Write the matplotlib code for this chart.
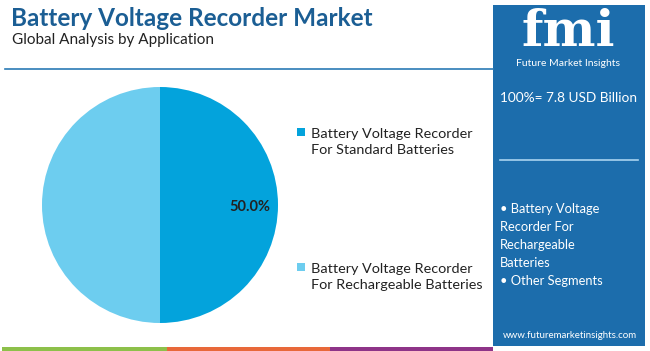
import matplotlib.pyplot as plt
from matplotlib.patches import Rectangle

# data
segments = ["Battery Voltage Recorder\nFor Standard Batteries",
            "Battery Voltage Recorder\nFor Rechargeable Batteries"]
shares = [50.0, 50.0]
colors = ["#03a3dc", "#6dcdef"]
total_label = "100%= 7.8 USD Billion"
other_items = ["\u2022 Battery Voltage\nRecorder For\nRechargeable\nBatteries\n\u2022 Other Segments"]

plt.rcParams["font.family"] = ["Lato", "DejaVu Sans"]

W, H = 650, 351
fig = plt.figure(figsize=(6.5, 3.51), dpi=100)
fig.patch.set_facecolor("white")


def px(x, y):
    return x / W, 1 - y / H


# header
fig.text(*px(11, 18), "Battery Voltage Recorder Market", fontsize=17.5, fontweight="bold",
         color="#1b5e94", va="center", ha="left")
fig.text(*px(12, 40), "Global Analysis by Application", fontsize=11, color="#222222",
         va="center", ha="left")
fig.add_artist(plt.Line2D([5 / W, 493 / W], [1 - 69 / H, 1 - 69 / H], color="#2a7ab5", lw=1.2))

# bottom stripe
for x0, x1, c in [(2, 167, "#8dc04a"), (167, 330, "#e8683a"), (330, 493, "#8e3488")]:
    fig.add_artist(Rectangle((x0 / W, 0), (x1 - x0) / W, 4 / H, color=c, lw=0))

# right panel
fig.add_artist(Rectangle((493 / W, 5 / H), 152 / W, 341 / H, color="#1c6dac", lw=0))
fig.text(*px(568, 32), "fmi", fontsize=36, fontweight="bold", family="DejaVu Serif",
         color="white", ha="center", va="center")
for yy in range(16, 54, 4):
    fig.add_artist(Rectangle((512 / W, 1 - yy / H), 116 / W, 1.2 / H, color="#1c6dac", lw=0))
fig.text(*px(568, 64), "Future Market Insights", fontsize=7.5, color="white", ha="center", va="center")
fig.text(*px(568, 98), total_label, fontsize=9.8, color="white", ha="center", va="center")
fig.add_artist(plt.Line2D([500 / W, 638 / W], [1 - 160 / H, 1 - 160 / H], color="#a9d4f0", lw=1.2))
fig.text(*px(500, 245), other_items[0], fontsize=9.3, color="white", ha="left", va="center",
         linespacing=1.62)
fig.text(*px(570, 335), "www.futuremarketinsights.com", fontsize=7, color="white",
         ha="center", va="center")

# pie
ax = fig.add_axes([(160 - 118) / W, 1 - (205 + 118) / H, 236 / W, 236 / H])
wedges, texts, autotexts = ax.pie(shares, colors=colors, startangle=90, counterclock=False,
                                  autopct="%1.1f%%", pctdistance=0.76,
                                  textprops=dict(fontsize=10.5, fontweight="bold", color="#222222"))
autotexts[1].set_visible(False)
x, y = autotexts[0].get_position()
autotexts[0].set_position((x, y - 0.02))
ax.set_xlim(-1, 1)
ax.set_ylim(-1, 1)
ax.set_aspect("equal")

# legend
legend_y = [142, 277]
for lab, c, ly in zip(segments, colors, legend_y):
    fig.add_artist(Rectangle((297 / W, 1 - (ly - 6) / H), 8 / W, 8 / H, color=c, lw=0))
    fig.text(*px(311, ly), lab, fontsize=10.4, color="#222222", ha="left", va="center",
             linespacing=1.45)

fig.savefig("out.png", dpi=100)
